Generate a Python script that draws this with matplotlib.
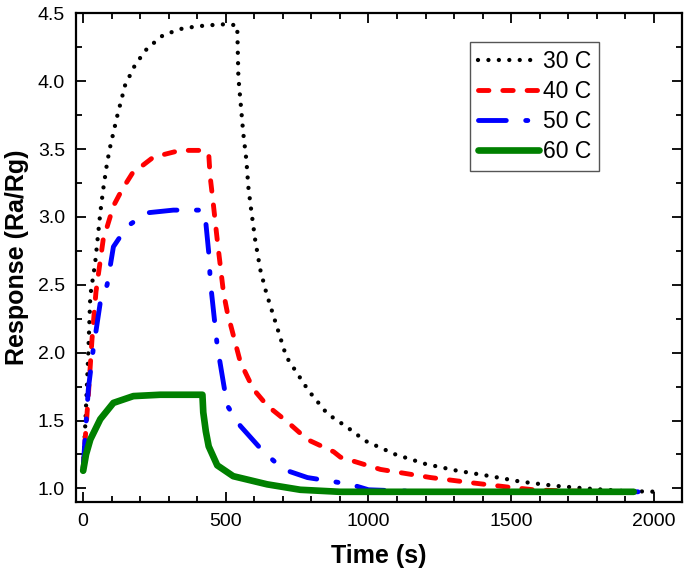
import matplotlib.pyplot as plt
from matplotlib.ticker import MultipleLocator

plt.rcParams['font.family'] = ['Liberation Sans', 'DejaVu Sans']
plt.rcParams['lines.scale_dashes'] = False

# values
t_30 = [0, 7, 18, 25, 42, 60, 70, 84, 95, 119, 147, 182, 224, 281, 351, 428, 505, 540,
        544, 554, 561, 572, 579, 589, 603, 621, 642, 712, 790, 856, 926, 989, 1095, 1200,
        1312, 1428, 1533, 1649, 1761, 1900, 2030]
r_30 = [1.15, 1.45, 2.0, 2.42, 2.66, 3.03, 3.2, 3.4, 3.52, 3.74, 3.97, 4.12, 4.24, 4.34, 4.39,
        4.41, 4.42, 4.41, 4.03, 3.79, 3.62, 3.42, 3.22, 3.05, 2.83, 2.61, 2.44, 1.97, 1.72,
        1.55, 1.45, 1.35, 1.25, 1.18, 1.13, 1.09, 1.05, 1.02, 1.0, 0.98, 0.975]

t_40 = [0, 7, 18, 31, 45, 70, 106, 136, 172, 246, 340, 411, 440, 445, 457, 470, 492, 505, 551,
        597, 645, 716, 786, 878, 902, 1042, 1218, 1368, 1488, 1579, 1700, 1950]
r_40 = [1.15, 1.36, 1.68, 2.1, 2.45, 2.83, 3.08, 3.2, 3.32, 3.44, 3.49, 3.49, 3.47, 3.3, 3.08,
        2.83, 2.44, 2.3, 1.93, 1.73, 1.61, 1.49, 1.36, 1.27, 1.23, 1.14, 1.08, 1.04, 1.01, 0.99,
        0.98, 0.975]

t_50 = [0, 7, 18, 35, 60, 84, 106, 154, 224, 316, 421, 428, 440, 446, 470, 505, 551, 632,
        702, 786, 877, 937, 1000, 1200, 1945]
r_50 = [1.15, 1.38, 1.73, 2.02, 2.37, 2.5, 2.78, 2.93, 3.03, 3.05, 3.05, 3.0, 2.74, 2.52, 2.05,
        1.61, 1.46, 1.27, 1.14, 1.08, 1.05, 1.03, 0.99, 0.975, 0.975]

t_60 = [0, 10, 25, 60, 106, 176, 270, 418, 421, 430, 440, 470, 526, 645, 761, 900, 1930]
r_60 = [1.13, 1.25, 1.36, 1.51, 1.63, 1.68, 1.69, 1.69, 1.56, 1.42, 1.31, 1.17, 1.09, 1.03,
        0.99, 0.975, 0.975]

fig = plt.figure(figsize=(6.85, 5.77), dpi=100)
ax = fig.add_axes([0.111, 0.130, 0.885, 0.847])

ax.plot(t_30, r_30, color='black', lw=3.1, dashes=(0.01, 7.5), dash_capstyle='round',
        label='30 C')
ax.plot(t_40, r_40, color='#ff0000', lw=3.5, dashes=(7.5, 10), dash_capstyle='round',
        label='40 C')
ax.plot(t_50, r_50, color='#0000ff', lw=3.5, dashes=(20, 14, 1.5, 14), dash_capstyle='round',
        label='50 C')
ax.plot(t_60, r_60, color='#008000', lw=4.8, solid_capstyle='round', label='60 C')

ax.set_xlim(-25, 2100)
ax.set_ylim(0.9, 4.5)
ax.xaxis.set_major_locator(MultipleLocator(500))
ax.xaxis.set_minor_locator(MultipleLocator(100))
ax.yaxis.set_major_locator(MultipleLocator(0.5))
ax.yaxis.set_minor_locator(MultipleLocator(0.25))
ax.yaxis.set_major_formatter(plt.FormatStrFormatter('%.1f'))
ax.tick_params(which='both', direction='in', top=True, right=True, width=1.3,
               labelsize=14, pad=8)
ax.tick_params(which='major', length=7)
ax.tick_params(which='minor', length=4)
for s in ax.spines.values():
    s.set_linewidth(1.6)

ax.set_xlabel('Time (s)', fontsize=18, fontweight='bold', labelpad=10)
ax.set_ylabel('Response (Ra/Rg)', fontsize=18, fontweight='bold', labelpad=6)

leg = ax.legend(loc='upper right', bbox_to_anchor=(0.863, 0.941), borderaxespad=0,
                fontsize=16.5, handlelength=2.7, handletextpad=0.15, labelspacing=0.3,
                borderpad=0.35, fancybox=False, framealpha=1, edgecolor='#555555')
leg.get_frame().set_linewidth(1.0)

fig.savefig('out.png', dpi=100)
